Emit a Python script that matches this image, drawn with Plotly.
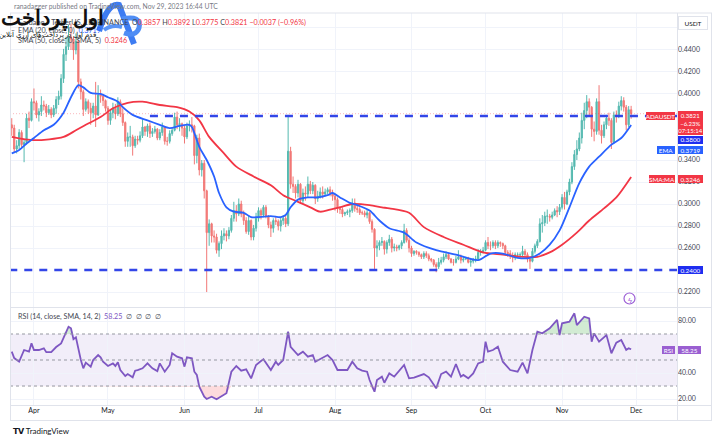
import plotly.graph_objects as go
import pandas as pd

W, H = 725, 446
FONT = "Lato, 'Open Sans', sans-serif"

# ---------------- data ----------------
start_date = "2023-03-23"
end_date = "2023-11-29"
first_open = 0.372

close_mar = [0.369, 0.350, 0.353, 0.365, 0.354, 0.356, 0.378, 0.376, 0.393]
high_mar = [0.378, 0.372, 0.358, 0.368, 0.367, 0.359, 0.382, 0.384, 0.396]
low_mar = [0.362, 0.347, 0.346, 0.350, 0.351, 0.338, 0.354, 0.369, 0.375]

close_apr = [0.392, 0.381, 0.384, 0.390, 0.389, 0.383, 0.386, 0.381, 0.387, 0.395,
             0.398, 0.414, 0.436, 0.443, 0.452, 0.450, 0.440, 0.448, 0.411, 0.402,
             0.386, 0.393, 0.387, 0.383, 0.389, 0.381, 0.399, 0.398, 0.394, 0.387]
high_apr = [0.405, 0.394, 0.387, 0.398, 0.394, 0.391, 0.390, 0.388, 0.390, 0.398,
            0.403, 0.418, 0.441, 0.452, 0.463, 0.464, 0.452, 0.455, 0.449, 0.414,
            0.404, 0.396, 0.395, 0.392, 0.392, 0.411, 0.408, 0.404, 0.400, 0.395]
low_apr = [0.385, 0.378, 0.375, 0.380, 0.385, 0.379, 0.381, 0.378, 0.379, 0.382,
           0.390, 0.395, 0.410, 0.430, 0.440, 0.440, 0.431, 0.436, 0.405, 0.395,
           0.380, 0.384, 0.382, 0.372, 0.378, 0.370, 0.380, 0.392, 0.389, 0.384]

close_may = [0.376, 0.383, 0.387, 0.382, 0.393, 0.382, 0.374, 0.357, 0.361, 0.361,
             0.353, 0.359, 0.358, 0.362, 0.370, 0.366, 0.371, 0.364, 0.366, 0.368,
             0.360, 0.365, 0.370, 0.357, 0.357, 0.364, 0.367, 0.379, 0.372, 0.373, 0.369]
high_may = [0.389, 0.386, 0.392, 0.391, 0.397, 0.395, 0.387, 0.375, 0.365, 0.371,
            0.363, 0.362, 0.362, 0.366, 0.377, 0.371, 0.373, 0.374, 0.369, 0.371,
            0.369, 0.368, 0.374, 0.371, 0.361, 0.367, 0.369, 0.383, 0.384, 0.378, 0.374]
low_may = [0.372, 0.372, 0.378, 0.377, 0.380, 0.379, 0.371, 0.352, 0.352, 0.352,
           0.344, 0.351, 0.354, 0.356, 0.360, 0.362, 0.361, 0.360, 0.361, 0.364,
           0.358, 0.358, 0.362, 0.354, 0.353, 0.355, 0.362, 0.366, 0.368, 0.366, 0.362]

close_jun = [0.361, 0.371, 0.372, 0.371, 0.344, 0.360, 0.331, 0.337, 0.312, 0.274,
             0.282, 0.271, 0.270, 0.258, 0.264, 0.271, 0.273, 0.271, 0.276, 0.287,
             0.294, 0.291, 0.300, 0.291, 0.285, 0.275, 0.285, 0.270, 0.278, 0.287]
high_jun = [0.371, 0.374, 0.376, 0.379, 0.372, 0.363, 0.364, 0.340, 0.340, 0.313,
            0.286, 0.283, 0.276, 0.273, 0.266, 0.276, 0.278, 0.276, 0.279, 0.290,
            0.302, 0.299, 0.305, 0.303, 0.294, 0.288, 0.290, 0.286, 0.281, 0.292]
low_jun = [0.355, 0.359, 0.366, 0.365, 0.336, 0.337, 0.326, 0.325, 0.305, 0.220,
           0.262, 0.265, 0.265, 0.255, 0.252, 0.259, 0.267, 0.266, 0.268, 0.274,
           0.284, 0.284, 0.289, 0.288, 0.281, 0.273, 0.272, 0.267, 0.267, 0.275]

close_jul = [0.294, 0.290, 0.297, 0.289, 0.281, 0.278, 0.285, 0.284, 0.280, 0.285,
             0.287, 0.282, 0.348, 0.318, 0.316, 0.310, 0.318, 0.303, 0.310, 0.309,
             0.318, 0.312, 0.317, 0.305, 0.307, 0.311, 0.309, 0.311, 0.313, 0.310, 0.307]
high_jul = [0.297, 0.296, 0.299, 0.299, 0.290, 0.284, 0.287, 0.289, 0.286, 0.288,
            0.290, 0.290, 0.380, 0.352, 0.325, 0.318, 0.322, 0.319, 0.314, 0.316,
            0.325, 0.321, 0.320, 0.318, 0.312, 0.315, 0.316, 0.314, 0.315, 0.316, 0.313]
low_jul = [0.284, 0.286, 0.288, 0.287, 0.278, 0.270, 0.274, 0.281, 0.276, 0.275,
           0.281, 0.279, 0.280, 0.314, 0.310, 0.305, 0.306, 0.300, 0.301, 0.303,
           0.306, 0.309, 0.309, 0.300, 0.302, 0.305, 0.305, 0.307, 0.309, 0.307, 0.303]

close_aug = [0.304, 0.296, 0.295, 0.291, 0.292, 0.293, 0.294, 0.301, 0.296, 0.295,
             0.292, 0.292, 0.290, 0.292, 0.284, 0.277, 0.260, 0.262, 0.265, 0.266,
             0.259, 0.265, 0.268, 0.260, 0.261, 0.260, 0.262, 0.265, 0.276, 0.267, 0.260]
high_aug = [0.309, 0.306, 0.298, 0.297, 0.293, 0.295, 0.296, 0.305, 0.305, 0.299,
            0.297, 0.294, 0.294, 0.295, 0.293, 0.286, 0.278, 0.267, 0.267, 0.270,
            0.267, 0.267, 0.272, 0.270, 0.264, 0.263, 0.263, 0.267, 0.282, 0.278, 0.269]
low_aug = [0.294, 0.292, 0.291, 0.288, 0.289, 0.290, 0.288, 0.292, 0.293, 0.292,
           0.290, 0.290, 0.288, 0.287, 0.282, 0.274, 0.241, 0.252, 0.258, 0.262,
           0.254, 0.255, 0.262, 0.256, 0.257, 0.257, 0.258, 0.259, 0.264, 0.265, 0.256]

close_sep = [0.255, 0.257, 0.256, 0.254, 0.252, 0.255, 0.253, 0.250, 0.249, 0.245,
             0.243, 0.247, 0.249, 0.252, 0.254, 0.250, 0.247, 0.247, 0.250, 0.252,
             0.249, 0.250, 0.251, 0.247, 0.248, 0.249, 0.250, 0.256, 0.256, 0.258]
high_sep = [0.262, 0.258, 0.258, 0.257, 0.255, 0.257, 0.257, 0.255, 0.251, 0.250,
            0.247, 0.251, 0.252, 0.255, 0.257, 0.255, 0.251, 0.250, 0.253, 0.258,
            0.254, 0.252, 0.252, 0.252, 0.250, 0.251, 0.253, 0.259, 0.259, 0.261]
low_sep = [0.252, 0.253, 0.254, 0.252, 0.250, 0.250, 0.251, 0.248, 0.247, 0.243,
           0.238, 0.241, 0.245, 0.247, 0.250, 0.249, 0.246, 0.244, 0.246, 0.249,
           0.246, 0.247, 0.249, 0.246, 0.243, 0.246, 0.247, 0.249, 0.253, 0.255]

close_oct = [0.265, 0.262, 0.262, 0.265, 0.262, 0.265, 0.264, 0.262, 0.256, 0.255,
             0.253, 0.251, 0.254, 0.254, 0.254, 0.257, 0.254, 0.250, 0.248, 0.257,
             0.262, 0.266, 0.282, 0.283, 0.289, 0.289, 0.288, 0.290, 0.294, 0.293, 0.297]
high_oct = [0.267, 0.270, 0.266, 0.267, 0.267, 0.267, 0.266, 0.265, 0.263, 0.258,
            0.258, 0.256, 0.256, 0.256, 0.256, 0.262, 0.259, 0.256, 0.252, 0.260,
            0.264, 0.268, 0.287, 0.290, 0.293, 0.295, 0.291, 0.293, 0.296, 0.298, 0.300]
low_oct = [0.257, 0.259, 0.258, 0.260, 0.259, 0.260, 0.261, 0.259, 0.253, 0.252,
           0.250, 0.247, 0.249, 0.251, 0.251, 0.252, 0.252, 0.247, 0.241, 0.247,
           0.255, 0.260, 0.265, 0.274, 0.280, 0.282, 0.284, 0.286, 0.289, 0.288, 0.290]

close_nov = [0.306, 0.300, 0.311, 0.320, 0.334, 0.345, 0.350, 0.360, 0.376, 0.385,
             0.393, 0.388, 0.368, 0.366, 0.393, 0.367, 0.362, 0.372, 0.378, 0.376,
             0.356, 0.381, 0.380, 0.389, 0.394, 0.388, 0.372, 0.3857, 0.3821]
high_nov = [0.309, 0.311, 0.313, 0.323, 0.338, 0.349, 0.358, 0.365, 0.383, 0.392,
            0.399, 0.396, 0.389, 0.375, 0.396, 0.408, 0.372, 0.375, 0.381, 0.383,
            0.378, 0.384, 0.385, 0.393, 0.398, 0.397, 0.390, 0.389, 0.3892]
low_nov = [0.295, 0.295, 0.299, 0.308, 0.318, 0.331, 0.340, 0.348, 0.355, 0.368,
           0.378, 0.380, 0.361, 0.357, 0.363, 0.363, 0.355, 0.360, 0.368, 0.371,
           0.350, 0.355, 0.374, 0.378, 0.385, 0.384, 0.367, 0.370, 0.3775]

ema_dates = ["2023-03-23", "2023-03-26", "2023-03-29", "2023-04-01", "2023-04-05", "2023-04-09",
             "2023-04-13", "2023-04-16", "2023-04-19", "2023-04-21", "2023-04-24", "2023-04-28",
             "2023-05-01", "2023-05-05", "2023-05-07", "2023-05-11", "2023-05-17", "2023-05-22",
             "2023-05-26", "2023-05-30", "2023-06-03", "2023-06-04", "2023-06-07", "2023-06-10",
             "2023-06-13", "2023-06-15", "2023-06-18", "2023-06-21", "2023-06-25", "2023-06-28",
             "2023-06-30", "2023-07-06", "2023-07-10", "2023-07-12", "2023-07-14", "2023-07-17",
             "2023-07-21", "2023-07-25", "2023-07-29", "2023-07-31", "2023-08-03", "2023-08-07",
             "2023-08-10", "2023-08-15", "2023-08-19", "2023-08-23", "2023-08-29", "2023-09-03",
             "2023-09-11", "2023-09-19", "2023-09-28", "2023-10-03", "2023-10-08", "2023-10-14",
             "2023-10-19", "2023-10-23", "2023-10-27", "2023-10-31", "2023-11-04", "2023-11-08",
             "2023-11-12", "2023-11-16", "2023-11-21", "2023-11-25", "2023-11-29"]
ema_values = [0.346, 0.349, 0.355, 0.360, 0.367, 0.372,
              0.383, 0.397, 0.408, 0.406, 0.401, 0.400,
              0.397, 0.393, 0.388, 0.381, 0.376, 0.372,
              0.369, 0.371, 0.372, 0.370, 0.352, 0.340,
              0.325, 0.310, 0.297, 0.293, 0.292, 0.288,
              0.288, 0.289, 0.288, 0.290, 0.297, 0.304,
              0.306, 0.306, 0.308, 0.310, 0.306, 0.301,
              0.299, 0.294, 0.285, 0.278, 0.274, 0.265,
              0.258, 0.254, 0.249, 0.255, 0.255, 0.251,
              0.251, 0.255, 0.263, 0.276, 0.297, 0.319,
              0.334, 0.343, 0.354, 0.360, 0.3719]

sma_dates = ["2023-03-23", "2023-04-01", "2023-04-13", "2023-04-18", "2023-04-22", "2023-04-28",
             "2023-05-03", "2023-05-09", "2023-05-15", "2023-05-22", "2023-05-29", "2023-06-03",
             "2023-06-07", "2023-06-11", "2023-06-17", "2023-06-22", "2023-06-29", "2023-07-06",
             "2023-07-11", "2023-07-17", "2023-07-22", "2023-07-26", "2023-07-30", "2023-08-03",
             "2023-08-08", "2023-08-15", "2023-08-20", "2023-08-23", "2023-08-31", "2023-09-06",
             "2023-09-14", "2023-09-22", "2023-09-30", "2023-10-08", "2023-10-16", "2023-10-22",
             "2023-10-27", "2023-11-01", "2023-11-07", "2023-11-12", "2023-11-18", "2023-11-23",
             "2023-11-29"]
sma_values = [0.361, 0.358, 0.361, 0.367, 0.372, 0.379,
              0.387, 0.392, 0.393, 0.390, 0.388, 0.384,
              0.376, 0.361, 0.346, 0.334, 0.325, 0.317,
              0.308, 0.302, 0.297, 0.293, 0.295, 0.297,
              0.300, 0.299, 0.297, 0.296, 0.292, 0.279,
              0.270, 0.263, 0.256, 0.254, 0.252, 0.252,
              0.256, 0.263, 0.274, 0.285, 0.296, 0.306,
              0.3246]

rsi_dates = ["2023-03-23", "2023-03-24", "2023-03-26", "2023-03-28", "2023-03-30", "2023-03-31",
             "2023-04-01", "2023-04-03", "2023-04-05", "2023-04-06", "2023-04-08", "2023-04-10",
             "2023-04-12", "2023-04-14", "2023-04-15", "2023-04-16", "2023-04-17", "2023-04-18",
             "2023-04-19", "2023-04-20", "2023-04-21", "2023-04-22", "2023-04-24", "2023-04-25",
             "2023-04-27", "2023-04-28", "2023-04-29", "2023-05-01", "2023-05-03", "2023-05-04",
             "2023-05-05", "2023-05-06", "2023-05-08", "2023-05-09", "2023-05-11", "2023-05-12",
             "2023-05-13", "2023-05-15", "2023-05-17", "2023-05-19", "2023-05-21", "2023-05-22",
             "2023-05-24", "2023-05-26", "2023-05-27", "2023-05-29", "2023-05-31", "2023-06-01",
             "2023-06-02", "2023-06-04", "2023-06-05", "2023-06-06", "2023-06-07", "2023-06-09",
             "2023-06-10", "2023-06-12", "2023-06-14", "2023-06-16", "2023-06-18", "2023-06-20",
             "2023-06-22", "2023-06-24", "2023-06-26", "2023-06-28", "2023-06-30", "2023-07-02",
             "2023-07-03", "2023-07-06", "2023-07-08", "2023-07-09", "2023-07-11", "2023-07-13",
             "2023-07-14", "2023-07-17", "2023-07-19", "2023-07-21", "2023-07-23", "2023-07-24",
             "2023-07-29", "2023-07-31", "2023-08-02", "2023-08-06", "2023-08-08", "2023-08-10",
             "2023-08-12", "2023-08-14", "2023-08-15", "2023-08-17", "2023-08-18", "2023-08-20",
             "2023-08-21", "2023-08-23", "2023-08-25", "2023-08-29", "2023-08-31", "2023-09-02",
             "2023-09-06", "2023-09-08", "2023-09-11", "2023-09-13", "2023-09-15", "2023-09-17",
             "2023-09-19", "2023-09-21", "2023-09-22", "2023-09-24", "2023-09-26", "2023-09-28",
             "2023-09-30", "2023-10-01", "2023-10-02", "2023-10-04", "2023-10-06", "2023-10-08",
             "2023-10-11", "2023-10-14", "2023-10-16", "2023-10-18", "2023-10-20", "2023-10-22",
             "2023-10-24", "2023-10-27", "2023-10-30", "2023-10-31", "2023-11-01", "2023-11-04",
             "2023-11-06", "2023-11-07", "2023-11-10", "2023-11-12", "2023-11-13", "2023-11-14",
             "2023-11-16", "2023-11-19", "2023-11-21", "2023-11-23", "2023-11-25", "2023-11-27",
             "2023-11-28", "2023-11-29"]
rsi_values = [56.4, 51.5, 48.7, 57.7, 56.4, 62.8,
              57.7, 57.7, 59.0, 56.0, 56.0, 60.0,
              62.8, 71.8, 75.6, 74.4, 66.0, 67.5,
              57.7, 50.0, 43.6, 48.0, 44.9, 50.0,
              53.8, 52.0, 48.7, 45.4, 47.4, 45.4,
              48.2, 42.3, 37.7, 39.2, 36.7, 41.8,
              42.3, 43.6, 47.4, 43.6, 41.5, 47.4,
              41.0, 46.2, 55.2, 52.6, 51.3, 44.9,
              52.0, 51.3, 41.0, 38.5, 29.5, 21.8,
              20.0, 21.8, 19.8, 22.3, 24.4, 41.0,
              45.4, 41.8, 42.8, 35.9, 46.2, 49.2,
              50.5, 42.3, 48.7, 46.2, 50.0, 71.8,
              60.2, 53.8, 56.4, 52.6, 53.8, 48.7,
              53.8, 50.0, 42.3, 42.3, 48.7, 43.6,
              41.8, 41.0, 34.6, 25.6, 34.6, 37.2,
              32.5, 39.7, 37.2, 46.2, 35.9, 36.4,
              39.2, 36.7, 28.2, 39.2, 41.0, 37.2,
              46.9, 37.2, 38.5, 35.9, 39.7, 47.4,
              48.7, 64.1, 56.4, 57.7, 60.2, 48.7,
              42.3, 41.0, 48.0, 39.7, 57.7, 71.8,
              70.5, 74.4, 80.8, 69.2, 78.2, 79.5,
              85.9, 76.9, 83.3, 82.0, 64.1, 70.5,
              64.1, 69.2, 55.2, 63.3, 65.4, 57.7,
              59.0, 58.25]

resistance_level = 0.38
resistance_start = "2023-05-18"
support_level = 0.24
support_start = "2023-03-22"
last_price = 0.3821
rsi_upper, rsi_mid, rsi_lower = 70, 50, 30

price_ticks = [0.22, 0.26, 0.28, 0.30, 0.32, 0.34, 0.40, 0.42, 0.44, 0.46]
rsi_ticks = [20, 40, 80]
x_start, x_end = "2023-03-22 07:00", "2023-12-17 14:00"

# ---------------- assemble ----------------
dates = pd.date_range(start_date, end_date, freq="D")
closes = close_mar + close_apr + close_may + close_jun + close_jul + close_aug + close_sep + close_oct + close_nov
highs = high_mar + high_apr + high_may + high_jun + high_jul + high_aug + high_sep + high_oct + high_nov
lows = low_mar + low_apr + low_may + low_jun + low_jul + low_aug + low_sep + low_oct + low_nov
opens = [first_open] + closes[:-1]


def X(p):
    return p / W


def Y(p):
    return 1 - p / H


fig = go.Figure()

fig.add_trace(go.Candlestick(
    x=dates, open=opens, high=highs, low=lows, close=closes,
    increasing=dict(line=dict(color="#26a69a", width=1), fillcolor="#26a69a"),
    decreasing=dict(line=dict(color="#ef5350", width=1), fillcolor="#ef5350"),
    whiskerwidth=0, opacity=0.78, showlegend=False, xaxis="x", yaxis="y"))

fig.add_trace(go.Scatter(x=sma_dates, y=sma_values, mode="lines",
                         line=dict(color="#f23645", width=1.8, shape="spline", smoothing=0.8),
                         showlegend=False, xaxis="x", yaxis="y"))
fig.add_trace(go.Scatter(x=ema_dates, y=ema_values, mode="lines",
                         line=dict(color="#2962ff", width=1.8, shape="spline", smoothing=0.8),
                         showlegend=False, xaxis="x", yaxis="y"))

# RSI zone fills
fig.add_trace(go.Scatter(x=rsi_dates, y=[rsi_upper] * len(rsi_dates), mode="lines",
                         line=dict(width=0), showlegend=False, xaxis="x2", yaxis="y2"))
fig.add_trace(go.Scatter(x=rsi_dates, y=[max(v, rsi_upper) for v in rsi_values], mode="lines",
                         line=dict(width=0), fill="tonexty", fillcolor="rgba(76,175,80,0.25)",
                         showlegend=False, xaxis="x2", yaxis="y2"))
fig.add_trace(go.Scatter(x=rsi_dates, y=[rsi_lower] * len(rsi_dates), mode="lines",
                         line=dict(width=0), showlegend=False, xaxis="x2", yaxis="y2"))
fig.add_trace(go.Scatter(x=rsi_dates, y=[min(v, rsi_lower) for v in rsi_values], mode="lines",
                         line=dict(width=0), fill="tonexty", fillcolor="rgba(242,54,69,0.18)",
                         showlegend=False, xaxis="x2", yaxis="y2"))
fig.add_trace(go.Scatter(x=rsi_dates, y=rsi_values, mode="lines",
                         line=dict(color="#7e57c2", width=1.8),
                         showlegend=False, xaxis="x2", yaxis="y2"))

GRID = "#f0f3fa"
BORDER = "#e0e3eb"
dom_x = [X(10), X(677)]

fig.update_layout(
    width=W, height=H, margin=dict(l=0, r=0, t=0, b=0),
    paper_bgcolor="white", plot_bgcolor="white",
    font=dict(family=FONT, size=7, color="#434651"),
    xaxis=dict(domain=dom_x, range=[x_start, x_end], type="date", anchor="y",
               showticklabels=False, showgrid=True, gridcolor=GRID, dtick="M1",
               tick0="2023-01-01", rangeslider=dict(visible=False), zeroline=False,
               showline=False, ticks=""),
    yaxis=dict(domain=[Y(307), Y(13)], range=[0.2064, 0.4736], side="right", anchor="x",
               tickvals=price_ticks, ticktext=[f"{v:.4f}" for v in price_ticks],
               showgrid=True, gridcolor=GRID, zeroline=False, showline=False, ticks="",
               tickfont=dict(size=7, color="#434651")),
    xaxis2=dict(domain=dom_x, range=[x_start, x_end], type="date", anchor="y2", matches="x",
                showgrid=True, gridcolor=GRID, dtick="M1", tick0="2023-01-01",
                tickformat="%b", ticks="", zeroline=False, showline=False,
                tickfont=dict(size=7, color="#131722"), rangeslider=dict(visible=False)),
    yaxis2=dict(domain=[Y(405), Y(308)], range=[15.4, 90], side="right", anchor="x2",
                tickvals=rsi_ticks, ticktext=[f"{v:.2f}" for v in rsi_ticks],
                showgrid=True, gridcolor=GRID, zeroline=False, showline=False, ticks="",
                tickfont=dict(size=7, color="#434651")),
)

shapes = []
# RSI band
shapes.append(dict(type="rect", xref="paper", yref="y2", x0=X(10), x1=X(677), y0=rsi_lower, y1=rsi_upper,
                   fillcolor="rgba(126,87,194,0.10)", line=dict(width=0), layer="below"))
for lv in (rsi_upper, rsi_mid, rsi_lower):
    shapes.append(dict(type="line", xref="paper", yref="y2", x0=X(10), x1=X(677), y0=lv, y1=lv,
                       line=dict(color="#9598a1", width=1, dash="3px,3px")))
# last price line
shapes.append(dict(type="line", xref="paper", yref="y", x0=X(10), x1=X(677), y0=last_price, y1=last_price,
                   line=dict(color="rgba(242,54,69,0.35)", width=1, dash="1px,2px")))
# horizontal levels
shapes.append(dict(type="line", xref="x", yref="y", x0=resistance_start, x1=x_end,
                   y0=resistance_level, y1=resistance_level,
                   line=dict(color="#3346e8", width=2.4, dash="8px,7px")))
shapes.append(dict(type="line", xref="x", yref="y", x0=support_start, x1=x_end,
                   y0=support_level, y1=support_level,
                   line=dict(color="#3346e8", width=2.4, dash="8px,7px")))
# frame lines
for (x0, y0, x1, y1) in [(10, 13, 712, 13), (10, 307.5, 712, 307.5), (10, 405.5, 712, 405.5),
                         (10, 420.5, 712, 420.5), (10.5, 13, 10.5, 420.5), (677.5, 13, 677.5, 420.5),
                         (711.5, 13, 711.5, 420.5)]:
    shapes.append(dict(type="line", xref="paper", yref="paper", x0=X(x0), y0=Y(y0), x1=X(x1), y1=Y(y1),
                       line=dict(color=BORDER, width=1)))


def ppath(points_cmds):
    out = []
    for c in points_cmds:
        if isinstance(c, str):
            out.append(c)
        else:
            out.append(f"{X(c[0]):.5f},{Y(c[1]):.5f}")
    return " ".join(out)


# blue watermark logo
shapes.append(dict(type="path", xref="paper", yref="paper",
                   path=ppath(["M", (99, 31), "Q", (108, 2), (119, 5), "L", (134, 44)]),
                   line=dict(color="#3d7cf2", width=6)))
shapes.append(dict(type="path", xref="paper", yref="paper",
                   path=ppath(["M", (122, 19), "Q", (142, 15), (139, 28), "Q", (136, 37), (124, 33)]),
                   line=dict(color="#4f8df5", width=5)))
shapes.append(dict(type="path", xref="paper", yref="paper",
                   path=ppath(["M", (104, 30), "Q", (112, 24), (122, 27)]),
                   line=dict(color="#5a95f6", width=4)))
# lightning icon circle
shapes.append(dict(type="circle", xref="paper", yref="paper", x0=X(624), x1=X(635), y0=Y(304), y1=Y(293),
                   line=dict(color="#9c5fd6", width=1.2), fillcolor="white"))
fig.update_layout(shapes=shapes)

ann = []


def text(t, x, y, size=7, color="#434651", anchor="left", **kw):
    ann.append(dict(text=t, x=X(x), y=Y(y), xref="paper", yref="paper", showarrow=False,
                    xanchor=anchor, yanchor="middle", font=dict(size=size, color=color, family=FONT), **kw))


def box(t, cx, cy, bg, w, h, size=6.3, fg="white", border=None):
    ann.append(dict(text=t, x=X(cx), y=Y(cy), xref="paper", yref="paper", showarrow=False,
                    xanchor="center", yanchor="middle", width=w, height=h, bgcolor=bg,
                    bordercolor=border or bg, borderwidth=1 if border else 0, borderpad=0,
                    font=dict(size=size, color=fg, family=FONT)))


RED = "#f23645"
text("ranadagger published on TradingView.com, Nov 29, 2023 16:44 UTC", 12, 6, size=6.8, color="#787b86")
text("Cardano / TetherUS, 1D, BINANCE  O<span style='color:#f23645'>0.3857</span> "
     "H<span style='color:#f23645'>0.3892</span> L<span style='color:#f23645'>0.3775</span> "
     "C<span style='color:#f23645'>0.3821</span> <span style='color:#f23645'>\u22120.0037 (\u22120.96%)</span>",
     16, 22, size=7.2, color="#434651")
text("EMA (20, close, 0)  <span style='color:#2962ff'>0.3719</span>", 16, 31, size=7.2, color="#434651")
text("SMA (50, close, 0, SMA, 5)  <span style='color:#f23645'>0.3246</span>", 16, 40, size=7.2, color="#434651")
text("RSI (14, close, SMA, 14, 2)  <span style='color:#7e57c2'>58.25</span>  \u2205  \u2205  \u2205  \u2205",
     16, 316, size=7.2, color="#434651")
text("<b>\U0001D5E7\U0001D5E9</b> TradingView", 11, 431, size=8, color="#131722")

# Persian watermark
text("<b>اول پرداخت</b>", 52, 17, size=21, color="#111111", anchor="center")
text("قدم اول در پرداخت‌های ارزی آنلاین", 47, 34, size=7, color="#111111", anchor="center")
text("ϟ", 629.5, 298.5, size=8, color="#9c5fd6", anchor="center")

# right-side labels
box("USDT", 693, 23.5, "white", 28, 12, size=6.5, fg="#131722", border=BORDER)
box("ADAUSDT", 660, 116, RED, 29, 8)
box("0.3821<br>\u22126.23%<br>07:15:14", 690, 123, RED, 25, 24, size=6)
box("0.3800", 690, 140, "#1f2ef0", 25, 7.5)
box("EMA", 666, 149.5, "#2962ff", 18, 8)
box("0.3719", 690, 149.5, "#2962ff", 25, 8)
box("SMA:MA", 662, 179, RED, 26, 8)
box("0.3246", 690, 179, RED, 25, 8)
box("0.2400", 690, 270, "#1f2ef0", 25, 8)
box("RSI", 668, 350, "#9a5fd1", 13, 8)
box("58.25", 689, 350, "#9a5fd1", 23, 8)

fig.update_layout(annotations=ann)

fig.write_html("out.html", config={"displayModeBar": False},
               post_script="document.body.style.margin='0px';")
